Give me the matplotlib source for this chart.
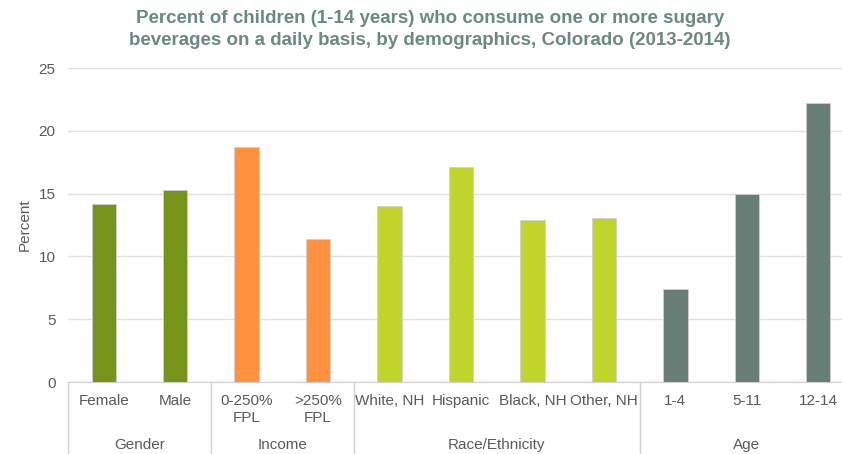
import matplotlib
matplotlib.use("Agg")
import matplotlib.pyplot as plt
import matplotlib.transforms as mtransforms

categories = ["Female", "Male", "0-250%\nFPL", ">250%\nFPL", "White, NH", "Hispanic",
              "Black, NH", "Other, NH", "1-4", "5-11", "12-14"]
values = [14.15, 15.3, 18.7, 11.4, 14.0, 17.1, 12.9, 13.05, 7.4, 15.0, 22.2]
groups = ["Gender", "Income", "Race/Ethnicity", "Age"]
group_sizes = [2, 2, 4, 3]
group_colors = ["#76941a", "#ff913f", "#c0d42b", "#677e76"]

plt.rcParams["font.family"] = ["Liberation Sans", "DejaVu Sans"]

fig = plt.figure(figsize=(8.42, 4.54), dpi=100)
ax = fig.add_axes([68/842, 1-382/454, (854-68)/842, (382-68)/454])

colors = []
for g, n in zip(group_colors, group_sizes):
    colors += [g]*n
x = list(range(len(categories)))
ax.bar(x, values, width=0.34, color=colors, edgecolor="#d0d0d0", linewidth=0.6, zorder=3)

ax.set_xlim(-0.5, len(categories)-0.5)
ax.set_ylim(0, 25)
ax.set_yticks([0, 5, 10, 15, 20, 25])
ax.tick_params(axis="y", length=0, labelsize=11, labelcolor="#595959", pad=9)
ax.set_xticks([])
ax.grid(axis="y", color="#e0e0e0", linewidth=1, zorder=0)
for s in ["top", "right", "left"]:
    ax.spines[s].set_visible(False)
ax.spines["bottom"].set_color("#d0d0d0")
ax.set_ylabel("Percent", fontsize=11, color="#595959", labelpad=5)

trans = mtransforms.blended_transform_factory(ax.transData, ax.transAxes)
pxh = 314.0
for i, c in enumerate(categories):
    ax.text(i, -12/pxh, c, transform=trans, ha="center", va="top", fontsize=11,
            color="#595959", linespacing=1.3)

start = 0
seps = [-0.5]
for g, n in zip(groups, group_sizes):
    center = start + (n-1)/2
    ax.text(center, -56/pxh, g, transform=trans, ha="center", va="top", fontsize=11,
            color="#595959")
    start += n
    seps.append(start-0.5)
for s in seps:
    ax.plot([s, s], [0, -72/pxh], transform=trans, color="#d0d0d0", linewidth=1,
            clip_on=False)

fig.text(430/842, 1-10/454, "Percent of children (1-14 years) who consume one or more sugary\n"
         "beverages on a daily basis, by demographics, Colorado (2013-2014)",
         ha="center", va="top", fontsize=13.5, fontweight="bold", color="#6b8a7e",
         linespacing=1.42)

fig.savefig("out.png", dpi=100)
